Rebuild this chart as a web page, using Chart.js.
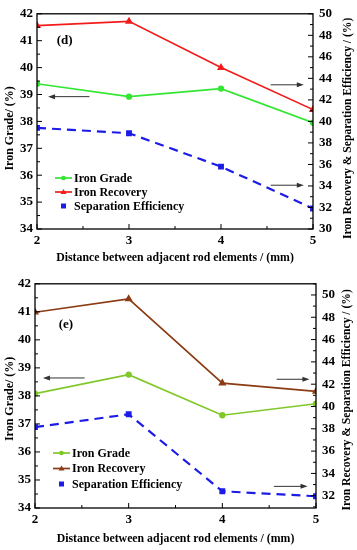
<!DOCTYPE html>
<html><head><meta charset="utf-8">
<script src="https://cdn.jsdelivr.net/npm/chart.js@4/dist/chart.umd.min.js"></script>
<style>
html,body{margin:0;padding:0;background:#fff;overflow:hidden;}
#top{position:absolute;left:0;top:0;width:357px;height:270px;}
#bot{position:absolute;left:0;top:270px;width:357px;height:280px;}
</style></head><body>
<div id="top"><canvas id="c1"></canvas></div>
<div id="bot"><canvas id="c2"></canvas></div>
<script>
// ---- data ----
const distances = [2, 3, 4, 5];
const gradeD = [39.40, 38.92, 39.22, 37.95];
const recoveryD = [48.9, 49.3, 45.0, 41.1];
const sepEffD = [39.4, 38.9, 35.8, 31.9];
const gradeE = [38.08, 38.76, 37.31, 37.72];
const recoveryE = [48.45, 49.65, 42.1, 41.35];
const sepEffE = [38.15, 39.3, 32.4, 31.95];
const seriesNames = ['Iron Grade', 'Iron Recovery', 'Separation Efficiency'];
const xTicks = [2, 3, 4, 5];
const leftTicks = [34, 35, 36, 37, 38, 39, 40, 41, 42];
const rightTicksD = [30, 32, 34, 36, 38, 40, 42, 44, 46, 48, 50];
const rightTicksE = [32, 34, 36, 38, 40, 42, 44, 46, 48, 50];
const xTitle = 'Distance between adjacent rod elements / (mm)';
const leftTitle = 'Iron Grade/ (%)';
const rightTitle = 'Iron Recovery & Separation Efficiency / (%)';

const FONT = '"Liberation Serif", "Times New Roman", serif';
const pts = arr => arr.map((v, i) => ({x: distances[i], y: v}));

function makeChart(canvasId, o) {
  const tickFont = {family: FONT, weight: 'bold', size: 13};
  const datasets = [
    {label: seriesNames[0], data: pts(o.grade), yAxisID: 'y', borderColor: o.cGrade, backgroundColor: o.cGrade,
     pointBackgroundColor: o.cGrade, pointBorderColor: o.cGrade, borderWidth: 1.7, pointStyle: 'circle', pointRadius: 2.3, tension: 0},
    {label: seriesNames[1], data: pts(o.recovery), yAxisID: 'y1', borderColor: o.cRec, backgroundColor: o.cRec,
     pointBackgroundColor: o.cRec, pointBorderColor: o.cRec, borderWidth: 1.7, pointStyle: 'triangle', pointRadius: 3, tension: 0},
    {label: seriesNames[2], data: pts(o.sep), yAxisID: 'y1', borderColor: o.cSep, backgroundColor: o.cSep,
     pointBackgroundColor: o.cSep, pointBorderColor: o.cSep, borderWidth: 2.2, borderDash: [9, 6], pointStyle: 'rect', pointRadius: 2.6, tension: 0}
  ];
  const decor = {
    id: 'decor',
    afterDraw(chart) {
      const ctx = chart.ctx, a = chart.chartArea;
      const sx = chart.scales.x, sl = chart.scales.y, sr = chart.scales.y1;
      ctx.save();
      // frame
      ctx.strokeStyle = '#000'; ctx.lineWidth = 1.3;
      ctx.strokeRect(a.left, a.top, a.right - a.left, a.bottom - a.top);
      // inward ticks
      ctx.lineWidth = 1; ctx.beginPath();
      const seg = (x1, y1, x2, y2) => { ctx.moveTo(x1, y1); ctx.lineTo(x2, y2); };
      for (let v = xTicks[0]; v <= xTicks[xTicks.length - 1] + 1e-9; v += 0.5) {
        const p = sx.getPixelForValue(v), L = Math.abs(v - Math.round(v)) < 1e-9 ? 5 : 3;
        seg(p, a.bottom, p, a.bottom - L);
      }
      for (let v = leftTicks[0]; v <= leftTicks[leftTicks.length - 1] + 1e-9; v += 0.5) {
        const p = sl.getPixelForValue(v), L = Math.abs(v - Math.round(v)) < 1e-9 ? 5 : 3;
        seg(a.left, p, a.left + L, p);
      }
      const rt = o.rightTicks;
      for (let v = Math.ceil(sr.min); v <= sr.max + 1e-9; v += 1) {
        const p = sr.getPixelForValue(v), L = rt.includes(v) ? 5 : 3;
        seg(a.right, p, a.right - L, p);
      }
      ctx.stroke();
      // arrows
      ctx.strokeStyle = '#333'; ctx.fillStyle = '#333'; ctx.lineWidth = 1;
      o.arrows.forEach(ar => {
        const ys = ar.axis === 'y' ? sl : sr;
        const x1 = sx.getPixelForValue(ar.x1), x2 = sx.getPixelForValue(ar.x2), y = ys.getPixelForValue(ar.v);
        const dir = Math.sign(x2 - x1);
        ctx.beginPath(); ctx.moveTo(x1, y); ctx.lineTo(x2 - dir * 5, y); ctx.stroke();
        ctx.beginPath(); ctx.moveTo(x2, y); ctx.lineTo(x2 - dir * 7, y - 2.5); ctx.lineTo(x2 - dir * 7, y + 2.5); ctx.closePath(); ctx.fill();
      });
      // panel label
      ctx.fillStyle = '#000';
      ctx.font = 'bold 13px ' + FONT; ctx.textAlign = 'center'; ctx.textBaseline = 'middle';
      ctx.fillText(o.panel.text, sx.getPixelForValue(o.panel.x), sl.getPixelForValue(o.panel.y));
      // legend
      ctx.font = 'bold 12px ' + FONT; ctx.textAlign = 'left';
      chart.data.datasets.forEach((ds, i) => {
        const y = a.bottom - o.legendBottom + i * o.legendGap;
        const lx = a.left + 18, rx = a.left + 35, mx = (lx + rx) / 2;
        if (i < 2) {
          ctx.strokeStyle = ds.borderColor; ctx.lineWidth = 1.7; ctx.setLineDash([]);
          ctx.beginPath(); ctx.moveTo(lx, y); ctx.lineTo(rx, y); ctx.stroke();
        }
        ctx.fillStyle = ds.borderColor;
        ctx.beginPath();
        if (ds.pointStyle === 'circle') { ctx.arc(mx, y, 2.3, 0, Math.PI * 2); }
        else if (ds.pointStyle === 'triangle') { ctx.moveTo(mx, y - 3); ctx.lineTo(mx + 3, y + 2); ctx.lineTo(mx - 3, y + 2); ctx.closePath(); }
        else { ctx.rect(mx - 2.5, y - 2.5, 5, 5); }
        ctx.fill();
        ctx.fillStyle = '#000';
        ctx.fillText(ds.label, rx + 2, y + 0.5);
      });
      // axis titles (both read bottom to top)
      ctx.fillStyle = '#000'; ctx.textAlign = 'center'; ctx.textBaseline = 'middle';
      const mid = (a.top + a.bottom) / 2;
      ctx.save();
      ctx.translate(o.leftTitleX, mid + o.leftTitleShift);
      ctx.rotate(-Math.PI / 2);
      ctx.font = 'bold 12px ' + FONT;
      ctx.fillText(leftTitle, 0, 0);
      ctx.restore();
      ctx.save();
      ctx.translate(o.rightTitleX, mid + o.rightTitleShift);
      ctx.rotate(-Math.PI / 2);
      ctx.font = 'bold 11.6px ' + FONT;
      ctx.fillText(rightTitle, 0, 0);
      ctx.restore();
      ctx.restore();
    }
  };
  return new Chart(document.getElementById(canvasId), {
    type: 'line',
    data: {datasets},
    plugins: [decor],
    options: {
      responsive: true, maintainAspectRatio: false, animation: false, devicePixelRatio: 1,
      layout: {padding: {top: o.padTop, left: 0, right: 0, bottom: 0}},
      plugins: {legend: {display: false}, tooltip: {enabled: false}},
      scales: {
        x: {type: 'linear', position: 'bottom', min: 2, max: 5,
            afterBuildTicks: s => { s.ticks = xTicks.map(v => ({value: v})); },
            afterFit: s => { s.height = o.xH; },
            grid: {display: false, drawTicks: false}, border: {display: false},
            ticks: {font: tickFont, color: '#000', padding: 4},
            title: {display: true, text: xTitle, font: {family: FONT, weight: 'bold', size: 11.8}, color: '#000', padding: {top: 0, bottom: o.xTitlePad}}},
        y: {type: 'linear', position: 'left', min: 34, max: 42,
            afterBuildTicks: s => { s.ticks = leftTicks.map(v => ({value: v})); },
            afterFit: s => { s.width = o.leftW; },
            grid: {display: false, drawTicks: false}, border: {display: false},
            ticks: {font: tickFont, color: '#000', padding: 4}},
        y1: {type: 'linear', position: 'right', min: o.rMin, max: o.rMax,
            afterBuildTicks: s => { s.ticks = o.rightTicks.map(v => ({value: v})); },
            afterFit: s => { s.width = o.rightW; },
            grid: {display: false, drawTicks: false}, border: {display: false},
            ticks: {font: tickFont, color: '#000', padding: 6}}
      }
    }
  });
}

makeChart('c1', {
  grade: gradeD, recovery: recoveryD, sep: sepEffD,
  cGrade: '#33e633', cRec: '#f21c1c', cSep: '#1c1ce6',
  rMin: 30, rMax: 50, rightTicks: rightTicksD,
  padTop: 8, xH: 41, leftW: 37, rightW: 44, xTitlePad: 5,
  leftTitleX: 10, leftTitleShift: 7, rightTitleX: 348, rightTitleShift: 7,
  legendBottom: 51, legendGap: 14,
  panel: {text: '(d)', x: 2.30, y: 41.02},
  arrows: [
    {axis: 'y', x1: 2.57, x2: 2.12, v: 38.92},
    {axis: 'y1', x1: 4.54, x2: 4.90, v: 43.4},
    {axis: 'y1', x1: 4.54, x2: 4.90, v: 34.07}
  ]
});
makeChart('c2', {
  grade: gradeE, recovery: recoveryE, sep: sepEffE,
  cGrade: '#80c828', cRec: '#8b3c14', cSep: '#1c1ce6',
  rMin: 30.9, rMax: 51.0, rightTicks: rightTicksE,
  padTop: 12, xH: 42, leftW: 35, rightW: 41, xTitlePad: 4,
  leftTitleX: 10, leftTitleShift: 3, rightTitleX: 347, rightTitleShift: 4,
  legendBottom: 55, legendGap: 15.5,
  panel: {text: '(e)', x: 2.33, y: 40.54},
  arrows: [
    {axis: 'y', x1: 2.53, x2: 2.085, v: 38.64},
    {axis: 'y1', x1: 4.58, x2: 4.93, v: 42.44},
    {axis: 'y1', x1: 4.55, x2: 4.91, v: 32.84}
  ]
});
</script>
</body></html>
